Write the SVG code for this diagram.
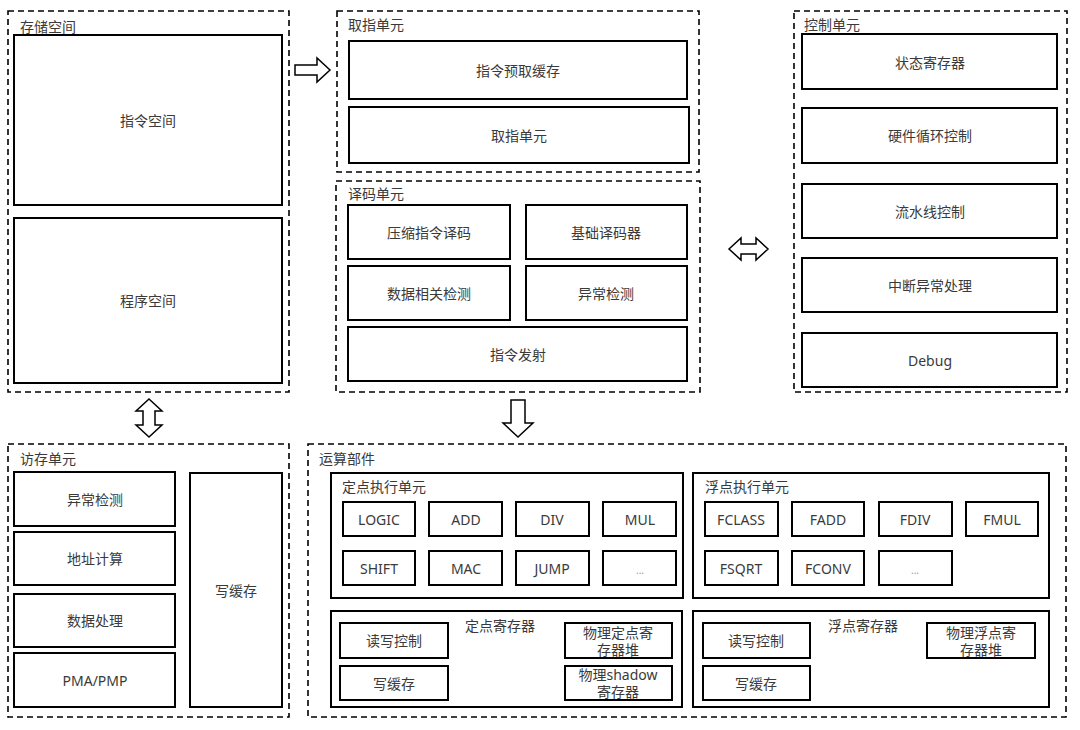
<svg xmlns="http://www.w3.org/2000/svg" width="1080" height="730" viewBox="0 0 1080 730">
<style>
.dash{fill:none;stroke:#000;stroke-width:1.6;stroke-dasharray:6 4}
.box{fill:#fff;stroke:#000;stroke-width:2}
.t{font-family:"Noto Sans","Noto Sans CJK SC",sans-serif;font-size:14px;fill:#3a3a3a;text-anchor:middle;dominant-baseline:central}
.lb{font-family:"Noto Sans","Noto Sans CJK SC",sans-serif;font-size:14px;fill:#3a3a3a}
.arr{fill:#fff;stroke:#000;stroke-width:1.5;stroke-linejoin:miter}
.dots{font-family:"Noto Sans",sans-serif;font-size:10px;fill:#999;text-anchor:middle;dominant-baseline:central}
</style>
<rect width="1080" height="730" fill="#fff"/>

<g id="storage">
<rect class="dash" x="8" y="11" width="281" height="381"/>
<text class="lb" x="20" y="32">存储空间</text>
<rect class="box" x="14" y="35" width="268" height="170"/>
<text class="t" x="148" y="120">指令空间</text>
<rect class="box" x="14" y="218" width="268" height="165"/>
<text class="t" x="148" y="300">程序空间</text>
</g>

<g id="fetch">
<rect class="dash" x="337" y="11" width="362" height="161"/>
<text class="lb" x="348" y="30">取指单元</text>
<rect class="box" x="349" y="41" width="338" height="58"/>
<text class="t" x="518" y="70">指令预取缓存</text>
<rect class="box" x="349" y="107" width="340" height="56"/>
<text class="t" x="519" y="135">取指单元</text>
</g>

<g id="decode">
<rect class="dash" x="336" y="181" width="364" height="211"/>
<text class="lb" x="348" y="199">译码单元</text>
<rect class="box" x="348" y="205" width="162" height="54"/>
<text class="t" x="429" y="232">压缩指令译码</text>
<rect class="box" x="526" y="205" width="161" height="54"/>
<text class="t" x="606" y="232">基础译码器</text>
<rect class="box" x="348" y="266" width="162" height="54"/>
<text class="t" x="429" y="293">数据相关检测</text>
<rect class="box" x="526" y="266" width="161" height="54"/>
<text class="t" x="606" y="293">异常检测</text>
<rect class="box" x="348" y="327" width="339" height="54"/>
<text class="t" x="518" y="354">指令发射</text>
</g>

<g id="control">
<rect class="dash" x="794" y="11" width="273" height="381"/>
<text class="lb" x="804" y="30">控制单元</text>
<rect class="box" x="802" y="34" width="255" height="55"/>
<text class="t" x="930" y="62">状态寄存器</text>
<rect class="box" x="802" y="108" width="255" height="55"/>
<text class="t" x="930" y="135">硬件循环控制</text>
<rect class="box" x="802" y="184" width="255" height="54"/>
<text class="t" x="930" y="211">流水线控制</text>
<rect class="box" x="802" y="258" width="255" height="54"/>
<text class="t" x="930" y="285">中断异常处理</text>
<rect class="box" x="802" y="333" width="255" height="54"/>
<text class="t" x="930" y="360">Debug</text>
</g>

<g id="lsu">
<rect class="dash" x="8" y="444" width="281" height="273"/>
<text class="lb" x="20" y="464">访存单元</text>
<rect class="box" x="14" y="472" width="161" height="54"/>
<text class="t" x="95" y="499">异常检测</text>
<rect class="box" x="14" y="532" width="161" height="53"/>
<text class="t" x="95" y="558">地址计算</text>
<rect class="box" x="14" y="594" width="161" height="53"/>
<text class="t" x="95" y="620">数据处理</text>
<rect class="box" x="14" y="653" width="161" height="54"/>
<text class="t" x="95" y="680">PMA/PMP</text>
<rect class="box" x="190" y="473" width="92" height="234"/>
<text class="t" x="236" y="590">写缓存</text>
</g>

<g id="alu">
<rect class="dash" x="308" y="444" width="758" height="273"/>
<text class="lb" x="319" y="464">运算部件</text>
</g>

<g id="int-exec">
<rect class="box" x="331" y="473" width="352" height="125"/>
<text class="lb" x="342" y="492">定点执行单元</text>
<rect class="box" x="343" y="502" width="72" height="34"/><text class="t" x="379" y="519">LOGIC</text>
<rect class="box" x="429" y="502" width="73" height="34"/><text class="t" x="466" y="519">ADD</text>
<rect class="box" x="516" y="502" width="73" height="34"/><text class="t" x="552" y="519">DIV</text>
<rect class="box" x="603" y="502" width="73" height="34"/><text class="t" x="640" y="519">MUL</text>
<rect class="box" x="343" y="551" width="72" height="34"/><text class="t" x="379" y="568">SHIFT</text>
<rect class="box" x="429" y="551" width="73" height="34"/><text class="t" x="466" y="568">MAC</text>
<rect class="box" x="516" y="551" width="73" height="34"/><text class="t" x="552" y="568">JUMP</text>
<rect class="box" x="603" y="551" width="73" height="34"/><text class="dots" x="640" y="570">...</text>
</g>

<g id="fp-exec">
<rect class="box" x="693" y="473" width="356" height="125"/>
<text class="lb" x="705" y="492">浮点执行单元</text>
<rect class="box" x="705" y="502" width="73" height="34"/><text class="t" x="741" y="519">FCLASS</text>
<rect class="box" x="792" y="502" width="72" height="34"/><text class="t" x="828" y="519">FADD</text>
<rect class="box" x="879" y="502" width="73" height="34"/><text class="t" x="915" y="519">FDIV</text>
<rect class="box" x="966" y="502" width="72" height="34"/><text class="t" x="1002" y="519">FMUL</text>
<rect class="box" x="705" y="551" width="73" height="34"/><text class="t" x="741" y="568">FSQRT</text>
<rect class="box" x="792" y="551" width="72" height="34"/><text class="t" x="828" y="568">FCONV</text>
<rect class="box" x="879" y="551" width="73" height="34"/><text class="dots" x="915" y="570">...</text>
</g>

<g id="int-reg">
<rect class="box" x="331" y="611" width="351" height="96"/>
<text class="t" x="500" y="625">定点寄存器</text>
<rect class="box" x="340" y="623" width="108" height="35"/><text class="t" x="394" y="640">读写控制</text>
<rect class="box" x="340" y="666" width="108" height="34"/><text class="t" x="394" y="683">写缓存</text>
<rect class="box" x="565" y="623" width="107" height="35"/>
<text class="t" x="618" y="632">物理定点寄</text><text class="t" x="618" y="649">存器堆</text>
<rect class="box" x="565" y="666" width="107" height="34"/>
<text class="t" x="618" y="674">物理shadow</text><text class="t" x="618" y="691">寄存器</text>
</g>

<g id="fp-reg">
<rect class="box" x="693" y="611" width="356" height="96"/>
<text class="t" x="863" y="625">浮点寄存器</text>
<rect class="box" x="703" y="623" width="107" height="35"/><text class="t" x="756" y="640">读写控制</text>
<rect class="box" x="703" y="666" width="107" height="34"/><text class="t" x="756" y="683">写缓存</text>
<rect class="box" x="927" y="623" width="108" height="35"/>
<text class="t" x="981" y="632">物理浮点寄</text><text class="t" x="981" y="649">存器堆</text>
</g>

<g id="connectors">
<polygon class="arr" points="295,65 317,65 317,58 330,70 317,82 317,75 295,75"/>
<polygon class="arr" points="511,400 525,400 525,423 533,423 518,437 503,423 511,423"/>
<polygon class="arr" points="149,399 162,411 155,411 155,425 162,425 149,437 136,425 143,425 143,411 136,411"/>
<polygon class="arr" points="729,249 741,238 741,244 756,244 756,238 768,249 756,260 756,254 741,254 741,260"/>
</g>
</svg>
